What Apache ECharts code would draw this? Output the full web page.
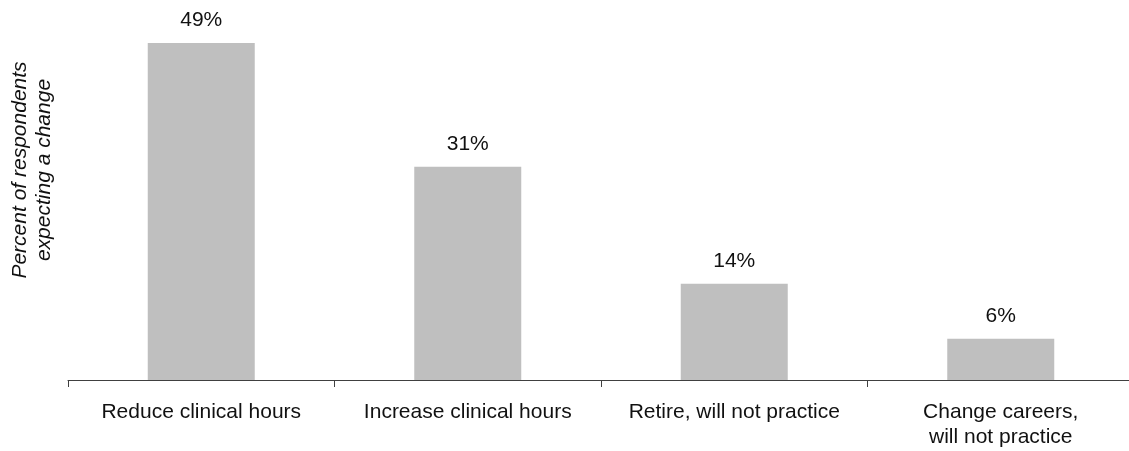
<!DOCTYPE html>
<html>
<head>
<meta charset="utf-8">
<script src="https://cdn.jsdelivr.net/npm/echarts@6/dist/echarts.min.js"></script>
<style>
  html, body { margin: 0; padding: 0; background: #ffffff; overflow: hidden; }
  /* the plot runs a few pixels past the right edge, so the last boundary tick sits off-screen */
  #chart { width: 1134px; height: 451px; }
</style>
</head>
<body>
<div id="chart"></div>
<script>
// Expected change in practice, share of respondents
const categories = [
  'Reduce clinical hours',
  'Increase clinical hours',
  'Retire, will not practice',
  'Change careers,\nwill not practice'
];
const percentValues = [49, 31, 14, 6];
const yTitleLines = ['Percent of respondents', 'expecting a change'];

const FONT = '"Liberation Sans", Arial, Helvetica, sans-serif';
const TEXT_COLOR = '#111111';

const chart = echarts.init(document.getElementById('chart'), null, { renderer: 'canvas' });

chart.setOption({
  animation: false,
  backgroundColor: '#ffffff',
  grid: { left: 68, right: 0, top: 36, bottom: 71, containLabel: false },
  xAxis: {
    type: 'category',
    data: categories,
    boundaryGap: true,
    axisLine: { show: true, lineStyle: { color: '#404040', width: 1 } },
    axisTick: { show: true, length: 7, lineStyle: { color: '#404040', width: 1 } },
    axisLabel: {
      margin: 20,
      color: TEXT_COLOR,
      fontFamily: FONT,
      fontSize: 21,
      lineHeight: 25,
      align: 'center',
      interval: 0
    },
    splitLine: { show: false }
  },
  yAxis: {
    type: 'value',
    min: 0,
    max: 50,
    show: false
  },
  graphic: [{
    type: 'text',
    x: 32,
    y: 170,
    rotation: Math.PI / 2,
    style: {
      text: yTitleLines.join('\n'),
      fontFamily: FONT,
      fontStyle: 'italic',
      fontSize: 21,
      lineHeight: 24,
      fill: TEXT_COLOR,
      align: 'center',
      verticalAlign: 'middle'
    }
  }],
  series: [{
    type: 'bar',
    data: percentValues,
    barWidth: 107,
    itemStyle: { color: '#bfbfbf' },
    label: {
      show: true,
      position: 'top',
      distance: 12,
      color: TEXT_COLOR,
      fontFamily: FONT,
      fontSize: 21,
      formatter: p => p.value + '%'
    }
  }]
});
</script>
</body>
</html>
